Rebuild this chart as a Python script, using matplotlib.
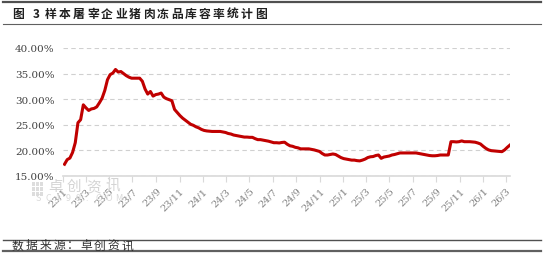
import numpy as np
import pandas as pd
import matplotlib
matplotlib.use('Agg')
import matplotlib.pyplot as plt
import matplotlib.dates as mdates
from matplotlib.lines import Line2D
from matplotlib.patches import Rectangle

plt.rcParams['font.family'] = ['Noto Sans CJK SC', 'DejaVu Sans']

title = '图 3 样本屠宰企业猪肉冻品库容率统计图'
source = '数据来源：卓创资讯'

# weekly storage ratio (%) from 2023-01-05
start_date = '2023-01-05'
rate = [
    17.3, 18.2, 18.5, 19.6, 21.5, 25.4, 26.0, 28.9, 28.3, 27.8,
    28.1, 28.2, 28.5, 29.3, 30.2, 31.7, 33.8, 34.8, 35.1, 35.8,
    35.3, 35.4, 35.0, 34.6, 34.3, 34.1, 34.1, 34.1, 34.1, 33.5,
    32.0, 31.0, 31.5, 30.6, 30.9, 31.0, 31.2, 30.4, 30.1, 29.9,
    29.7, 28.0, 27.4, 26.8, 26.3, 25.9, 25.5, 25.1, 24.9, 24.6,
    24.4, 24.1, 23.9, 23.8, 23.75, 23.7, 23.7, 23.7, 23.7, 23.6,
    23.5, 23.3, 23.2, 23.0, 22.9, 22.8, 22.7, 22.6, 22.6, 22.55,
    22.55, 22.3, 22.1, 22.1, 22.0, 21.9, 21.8, 21.65, 21.5, 21.5,
    21.45, 21.55, 21.6, 21.2, 20.9, 20.8, 20.6, 20.5, 20.3, 20.3,
    20.3, 20.3, 20.2, 20.1, 19.95, 19.8, 19.4, 19.1, 19.1, 19.2,
    19.3, 19.2, 18.9, 18.6, 18.4, 18.3, 18.2, 18.1, 18.1, 18.0,
    17.95, 18.1, 18.3, 18.6, 18.75, 18.8, 19.0, 19.1, 18.45, 18.7,
    18.8, 18.9, 19.1, 19.2, 19.35, 19.5, 19.5, 19.5, 19.5, 19.5,
    19.5, 19.5, 19.4, 19.3, 19.2, 19.1, 19.0, 18.95, 18.95, 19.0,
    19.1, 19.1, 19.1, 19.1, 21.7, 21.7, 21.65, 21.7, 21.85, 21.7,
    21.7, 21.7, 21.65, 21.6, 21.45, 21.25, 20.8, 20.4, 20.1, 19.95,
    19.9, 19.85, 19.8, 19.75, 20.1, 20.6, 21.05,
]
yticks = [15, 20, 25, 30, 35, 40]

dates = pd.date_range(start_date, periods=len(rate), freq='7D')

fig = plt.figure(figsize=(5.44, 2.55), dpi=100)
ax = fig.add_axes([0.1158, 0.3059, 0.8217, 0.502])

ax.plot(dates, rate, color='#C00000', lw=2.2, solid_joinstyle='round')

ax.set_ylim(15, 40)
ax.set_yticks(yticks)
ax.set_yticklabels([f'{v:.2f}%' for v in yticks], family='DejaVu Serif', fontsize=7.5, color='#404040')
ax.yaxis.grid(True, ls=(0, (4, 3)), color='#D0D0D0', lw=0.8)
ax.set_xlim(pd.Timestamp('2023-01-01'), dates[-1])
ax.xaxis.set_major_locator(mdates.MonthLocator(bymonth=[1, 3, 5, 7, 9, 11]))
ax.xaxis.set_major_formatter(plt.FuncFormatter(
    lambda x, p: f'{mdates.num2date(x).year % 100}/{mdates.num2date(x).month}'))
for lab in ax.get_xticklabels():
    lab.set_rotation(45)
    lab.set_ha('right')
    lab.set_rotation_mode('anchor')
ax.tick_params(axis='x', labelsize=7, colors='#808080', length=4, color='#D9D9D9', pad=3)
ax.tick_params(axis='y', length=0, pad=6)
for lab in ax.get_xticklabels():
    lab.set_family('DejaVu Serif')
for s in ['top', 'right', 'left']:
    ax.spines[s].set_visible(False)
ax.spines['bottom'].set_color('#D9D9D9')
ax.spines['bottom'].set_linewidth(1.2)
ax.set_axisbelow(True)

H = 255.0
W = 544.0

def spaced_text(s, x0, ypix, step, **kw):
    x = x0
    for ch in s:
        fig.text(x / W, 1 - ypix / H, ch, ha='left', va='center', **kw)
        x += step if ord(ch) > 255 else step * 0.45

# watermark
for i in range(3):
    for j in range(3):
        fig.add_artist(Rectangle(((32 + i * 4) / W, 1 - (183 + j * 5 + 4) / H), 3.2 / W, 4 / H,
                                 transform=fig.transFigure, color='#DDDDDD', lw=0))
spaced_text('卓创资讯', 48, 187, 19, fontsize=10.5, color='#D4D4D4')
spaced_text('SCI99.COM', 36, 199, 22, fontsize=6.5, color='#DADADA')

# header / footer rules
def hline(ypix, lw, color):
    fig.add_artist(Line2D([0.006, 0.994], [1 - ypix / H, 1 - ypix / H],
                          transform=fig.transFigure, lw=lw, color=color))

hline(3.3, 1.6, '#505050')
hline(25, 0.8, '#606060')
hline(240.7, 1.0, '#505050')
hline(251.5, 1.6, '#606060')

spaced_text(title, 12, 14.5, 14.0, fontsize=8.5, fontweight='bold', color='#202020')
spaced_text(source, 12, 246, 13.7, fontsize=8.5, color='#303030')

fig.savefig('out.png', dpi=100)
